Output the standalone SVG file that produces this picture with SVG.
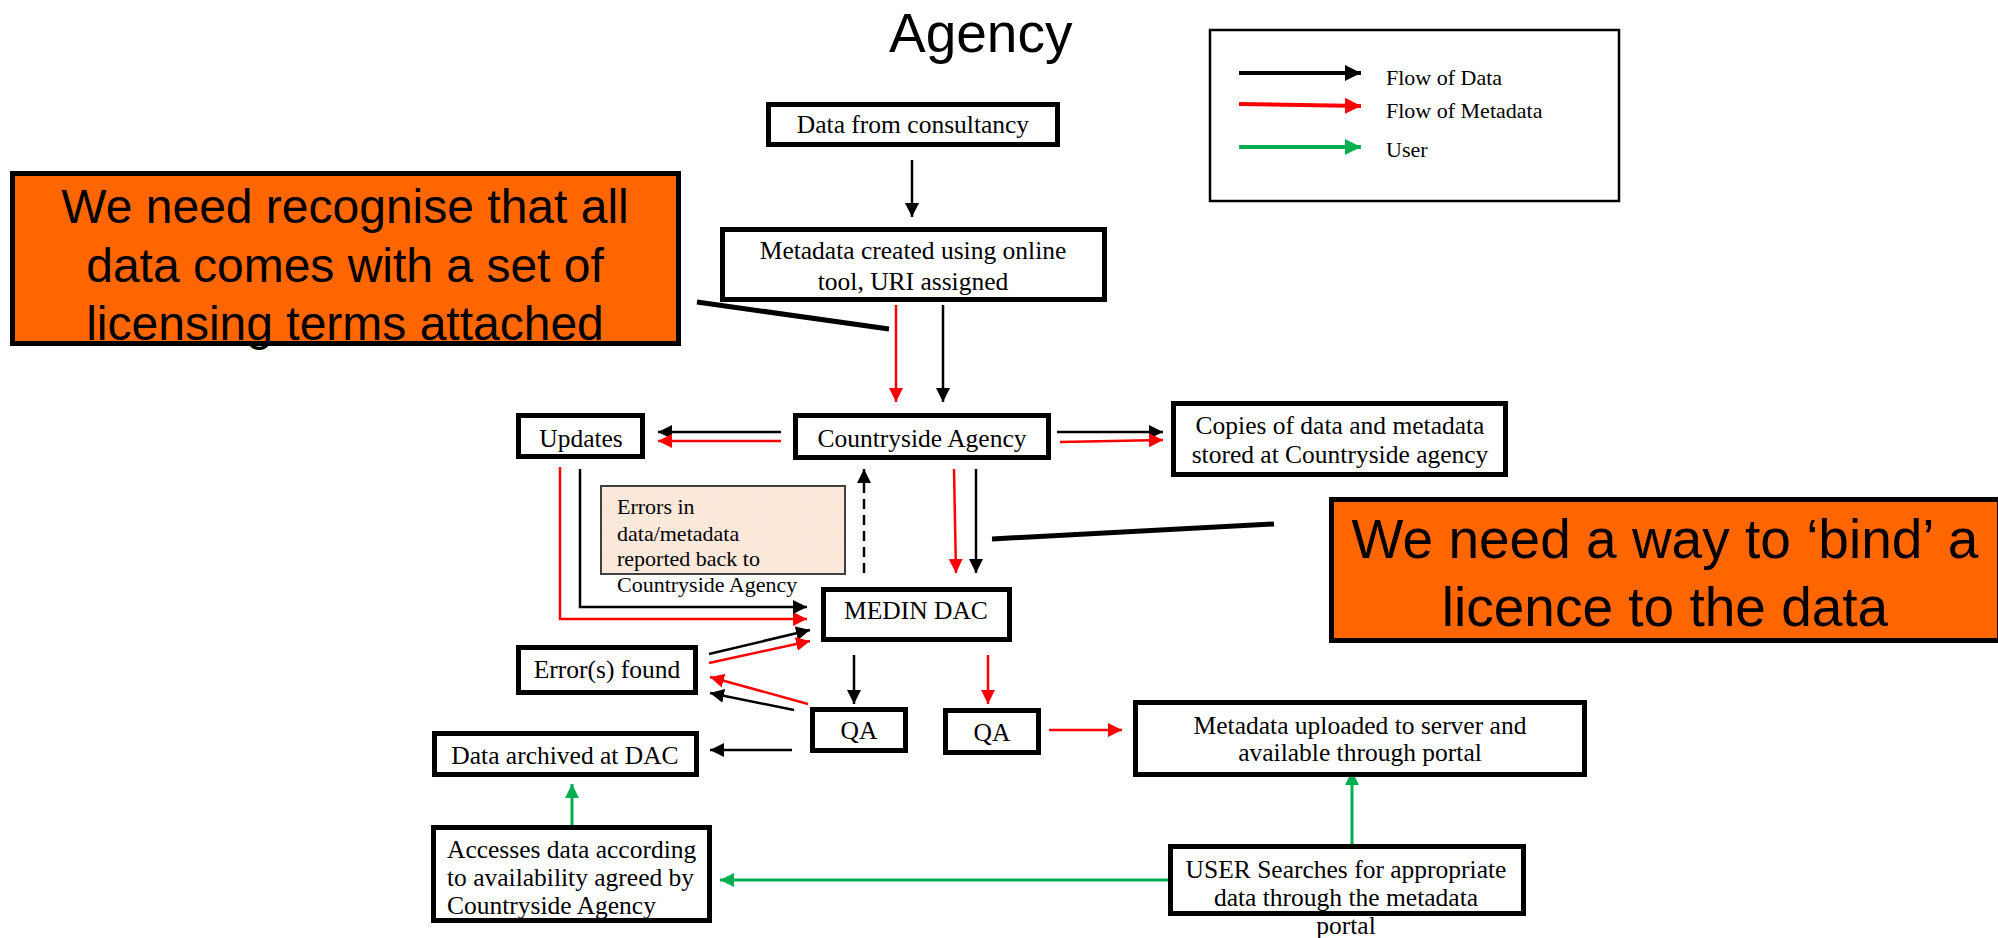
<svg xmlns="http://www.w3.org/2000/svg" width="1998" height="938" viewBox="0 0 1998 938">
<style>
.bg{fill:#ffffff}
.node{fill:#ffffff;stroke:#000000;stroke-width:5}
.t{font-family:"Liberation Serif","Times New Roman",serif;font-size:25.5px;fill:#000000}
.ts{font-family:"Liberation Serif","Times New Roman",serif;font-size:22px;fill:#000000}
.mid{text-anchor:middle}
.callout{fill:#FF6600;stroke:#000000;stroke-width:5}
.ct{font-family:"Liberation Sans",Arial,sans-serif;fill:#000000;text-anchor:middle}
.title{font-family:"Liberation Sans",Arial,sans-serif;font-size:55px;fill:#000000}
.pointer{stroke:#000000;stroke-width:5;fill:none}
.blk{stroke:#000000;stroke-width:2.5;fill:none;marker-end:url(#ab)}
.red{stroke:#FF0000;stroke-width:2.5;fill:none;marker-end:url(#ar)}
.grn{stroke:#00B050;stroke-width:3;fill:none;marker-end:url(#ag)}
.dash{stroke:#000000;stroke-width:2.5;fill:none;stroke-dasharray:10 6;marker-end:url(#ab)}
</style>
<defs>
<marker id="ab" markerUnits="userSpaceOnUse" markerWidth="14" markerHeight="14" refX="14" refY="7" orient="auto"><path d="M0,0 L14,7 L0,14 z" fill="#000000"/></marker>
<marker id="ar" markerUnits="userSpaceOnUse" markerWidth="14" markerHeight="14" refX="14" refY="7" orient="auto"><path d="M0,0 L14,7 L0,14 z" fill="#FF0000"/></marker>
<marker id="ag" markerUnits="userSpaceOnUse" markerWidth="14" markerHeight="14" refX="14" refY="7" orient="auto"><path d="M0,0 L14,7 L0,14 z" fill="#00B050"/></marker>
<marker id="lb" markerUnits="userSpaceOnUse" markerWidth="16" markerHeight="16" refX="16" refY="8" orient="auto"><path d="M0,0 L16,8 L0,16 z" fill="#000000"/></marker>
<marker id="lr" markerUnits="userSpaceOnUse" markerWidth="16" markerHeight="16" refX="16" refY="8" orient="auto"><path d="M0,0 L16,8 L0,16 z" fill="#FF0000"/></marker>
<marker id="lg" markerUnits="userSpaceOnUse" markerWidth="16" markerHeight="16" refX="16" refY="8" orient="auto"><path d="M0,0 L16,8 L0,16 z" fill="#00B050"/></marker>
<pattern id="grid" patternUnits="userSpaceOnUse" width="6" height="6"><rect width="6" height="6" fill="#FCEADC"/><path d="M0,0 H6 M0,0 V6" stroke="#F3D9C8" stroke-width="0.6"/></pattern>
</defs>
<rect class="bg" x="0" y="0" width="1998" height="938"/>

<text id="title" class="title" x="889" y="52">Agency</text>

<g id="legend">
<rect x="1210" y="30" width="409" height="171" fill="#ffffff" stroke="#000000" stroke-width="2.5"/>
<line x1="1239" y1="73" x2="1361" y2="73" stroke="#000000" stroke-width="4" marker-end="url(#lb)"/>
<line x1="1239" y1="104" x2="1361" y2="106" stroke="#FF0000" stroke-width="4" marker-end="url(#lr)"/>
<line x1="1239" y1="147" x2="1361" y2="147" stroke="#00B050" stroke-width="4" marker-end="url(#lg)"/>
<text class="ts" x="1386" y="85">Flow of Data</text>
<text class="ts" x="1386" y="118">Flow of Metadata</text>
<text class="ts" x="1386" y="157">User</text>
</g>

<g id="connectors">
<line class="blk" x1="912" y1="160" x2="912" y2="217"/>
<line class="red" x1="896" y1="305" x2="896" y2="402"/>
<line class="blk" x1="943" y1="305" x2="943" y2="402"/>
<line class="blk" x1="781" y1="432" x2="658" y2="432"/>
<line class="red" x1="781" y1="441" x2="658" y2="441"/>
<line class="blk" x1="1057" y1="432" x2="1163" y2="432"/>
<line class="red" x1="1060" y1="442" x2="1163" y2="440"/>
<line class="dash" x1="864" y1="573" x2="864" y2="469"/>
<line class="red" x1="954" y1="469" x2="956" y2="573"/>
<line class="blk" x1="976" y1="469" x2="976" y2="573"/>
<polyline class="red" points="560,467 560,619 807,619"/>
<polyline class="blk" points="580,469 580,607 807,607"/>
<line class="blk" x1="709" y1="654" x2="810" y2="630"/>
<line class="red" x1="709" y1="663" x2="810" y2="641"/>
<line class="red" x1="808" y1="704" x2="710" y2="677"/>
<line class="blk" x1="794" y1="710" x2="710" y2="693"/>
<line class="blk" x1="854" y1="655" x2="854" y2="704"/>
<line class="red" x1="988" y1="655" x2="988" y2="704"/>
<line class="red" x1="1049" y1="730" x2="1122" y2="730"/>
<line class="blk" x1="792" y1="750" x2="710" y2="750"/>
<line class="grn" x1="1352" y1="845" x2="1352" y2="771"/>
<line class="grn" x1="1168" y1="880" x2="720" y2="880"/>
<line class="grn" x1="572" y1="827" x2="572" y2="784"/>
</g>

<g id="node-consultancy">
<rect class="node" x="768.5" y="104.5" width="289" height="40"/>
<text class="t mid" x="913" y="133">Data from consultancy</text>
</g>
<g id="node-metadata-created">
<rect class="node" x="722.5" y="229.5" width="382" height="70"/>
<text class="t mid" x="913" y="259">Metadata created using online</text>
<text class="t mid" x="913" y="290">tool, URI assigned</text>
</g>
<g id="node-countryside">
<rect class="node" x="795.5" y="415.5" width="253" height="42"/>
<text class="t mid" x="922" y="447">Countryside Agency</text>
</g>
<g id="node-updates">
<rect class="node" x="518.5" y="415.5" width="124" height="41"/>
<text class="t mid" x="581" y="447">Updates</text>
</g>
<g id="node-copies">
<rect class="node" x="1173.5" y="403.5" width="332" height="71"/>
<text class="t mid" x="1340" y="434">Copies of data and metadata</text>
<text class="t mid" x="1340" y="463">stored at Countryside agency</text>
</g>
<g id="node-errors-note">
<rect x="601" y="486" width="244" height="88" fill="url(#grid)" stroke="#404040" stroke-width="2"/>
<text class="ts" x="617" y="514">Errors in</text>
<text class="ts" x="617" y="541">data/metadata</text>
<text class="ts" x="617" y="566">reported back to</text>
<text class="ts" x="617" y="592">Countryside Agency</text>
</g>
<g id="node-medin">
<rect class="node" x="823.5" y="589.5" width="186" height="50"/>
<text class="t mid" x="916" y="619">MEDIN DAC</text>
</g>
<g id="node-errors-found">
<rect class="node" x="518.5" y="647.5" width="177" height="45"/>
<text class="t mid" x="607" y="678">Error(s) found</text>
</g>
<g id="node-qa1">
<rect class="node" x="812.5" y="709.5" width="93" height="41"/>
<text class="t mid" x="859" y="739">QA</text>
</g>
<g id="node-qa2">
<rect class="node" x="945.5" y="710.5" width="93" height="42"/>
<text class="t mid" x="992" y="741">QA</text>
</g>
<g id="node-archived">
<rect class="node" x="434.5" y="733.5" width="262" height="41"/>
<text class="t mid" x="565" y="764">Data archived at DAC</text>
</g>
<g id="node-accesses">
<rect class="node" x="433.5" y="827.5" width="276" height="93"/>
<text class="t" x="447" y="858">Accesses data according</text>
<text class="t" x="447" y="886">to availability agreed by</text>
<text class="t" x="447" y="914">Countryside Agency</text>
</g>
<g id="node-uploaded">
<rect class="node" x="1135.5" y="702.5" width="449" height="72"/>
<text class="t mid" x="1360" y="734">Metadata uploaded to server and</text>
<text class="t mid" x="1360" y="761">available through portal</text>
</g>
<g id="node-user">
<rect class="node" x="1170.5" y="846.5" width="353" height="67"/>
<text class="t mid" x="1346" y="878">USER Searches for appropriate</text>
<text class="t mid" x="1346" y="906">data through the metadata</text>
<text class="t mid" x="1346" y="934">portal</text>
</g>

<g id="callout-licensing">
<line class="pointer" x1="697" y1="302" x2="889" y2="329"/>
<rect class="callout" x="12.5" y="173.5" width="666" height="170"/>
<text class="ct" x="345" y="223" font-size="48">We need recognise that all</text>
<text class="ct" x="345" y="282" font-size="48">data comes with a set of</text>
<text class="ct" x="345" y="340" font-size="48">licensing terms attached</text>
</g>
<g id="callout-bind">
<line class="pointer" x1="992" y1="539" x2="1274" y2="524"/>
<rect class="callout" x="1331.5" y="499.5" width="668" height="141"/>
<text class="ct" x="1665" y="558" font-size="55">We need a way to ‘bind’ a</text>
<text class="ct" x="1665" y="626" font-size="55">licence to the data</text>
</g>
</svg>
